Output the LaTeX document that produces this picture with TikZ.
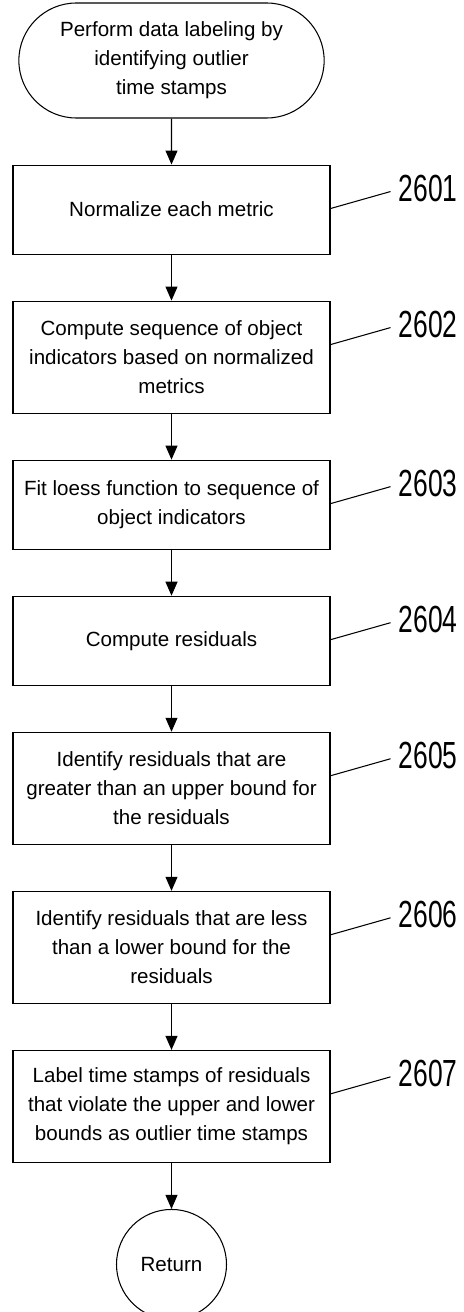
\documentclass[tikz,border=0pt]{standalone}
\usepackage{fontspec}
\setmainfont{Liberation Sans}
\newfontfamily\refnumfont[FakeStretch=0.7]{Liberation Sans}
\usepackage{tikz}
\usetikzlibrary{arrows.meta,positioning,shapes.misc}
\tikzset{
  termbox/.style={
    rounded rectangle, draw, line width=0.6pt,
    minimum width=6.34cm, minimum height=2.3cm,
    font=\fontsize{11.7}{16.5}\selectfont, align=center
  },
  procbox/.style={
    rectangle, draw, line width=0.6pt,
    minimum width=6.34cm, minimum height=#1,
    font=\fontsize{11.7}{16.5}\selectfont, align=center,
    inner sep=4pt
  },
  procbox/.default=1.78cm,
  endcircle/.style={
    circle, draw, line width=0.6pt, minimum size=2.2cm,
    font=\fontsize{11.7}{16.5}\selectfont
  },
  flowarrow/.style={
    -{Triangle[length=0.28cm,width=0.24cm]}, line width=0.6pt
  },
  leaderline/.style={line width=0.6pt},
  refnum/.style={
    font=\refnumfont\fontsize{21.5}{24}\selectfont,
    inner sep=0pt, anchor=west
  },
}
\begin{document}
\begin{tikzpicture}[node distance=0.92cm]
    \useasboundingbox (0,0) rectangle (9.26,-26.24);
    \node[termbox] (start) at (3.43,-1.21) {Perform data labeling by\\identifying outlier\\time stamps};
    \node[procbox, below=of start] (b1) {Normalize each metric};
    \node[procbox=2.24cm, below=of b1] (b2) {Compute sequence of object\\indicators based on normalized\\metrics};
    \node[procbox, below=of b2] (b3) {Fit loess function to sequence of\\object indicators};
    \node[procbox, below=of b3] (b4) {Compute residuals};
    \node[procbox=2.24cm, below=of b4] (b5) {Identify residuals that are\\greater than an upper bound for\\the residuals};
    \node[procbox=2.24cm, below=of b5] (b6) {Identify residuals that are less\\than a lower bound for the\\residuals};
    \node[procbox=2.24cm, below=of b6] (b7) {Label time stamps of residuals\\that violate the upper and lower\\bounds as outlier time stamps};
    \node[endcircle, below=of b7] (ret) {Return};
    % flow
    \draw[flowarrow] (start) -- (b1);
    \foreach \a/\b in {b1/b2,b2/b3,b3/b4,b4/b5,b5/b6,b6/b7,b7/ret}
        \draw[flowarrow] (\a) -- (\b);
    % reference numerals
    \foreach \n/\lab in {b1/2601,b2/2602,b3/2603,b4/2604,b5/2605,b6/2606,b7/2607} {
        \node[refnum] (l\n) at ([xshift=1.36cm,yshift=-0.48cm]\n.north east) {\lab};
        \draw[leaderline] ([yshift=-0.88cm]\n.north east) -- ([xshift=-0.16cm,yshift=-0.06cm]l\n.west);
    }
\end{tikzpicture}
\end{document}
